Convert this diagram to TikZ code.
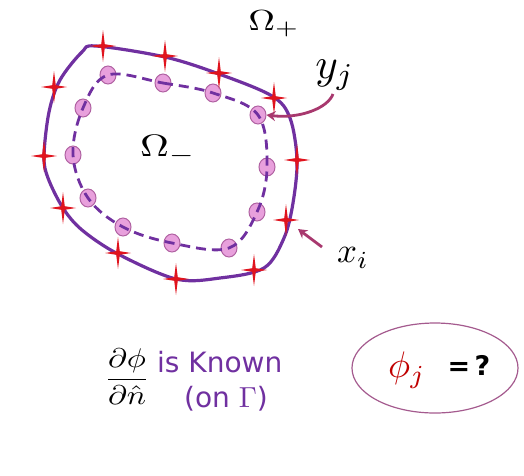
\documentclass[tikz,border=0pt]{standalone}
\usepackage{fontspec}
\setsansfont{DejaVu Sans}
\usetikzlibrary{arrows.meta,shapes.geometric}
\definecolor{bpurple}{HTML}{7030A0}
\definecolor{starred}{HTML}{E0141E}
\definecolor{dotfill}{HTML}{E8A0DC}
\definecolor{dotdraw}{HTML}{B062A2}
\definecolor{ptrcol}{HTML}{A8386E}
\definecolor{ellcol}{HTML}{A45A8E}
\definecolor{phired}{HTML}{C00000}
\tikzset{
  star4/.pic={\fill[starred] (0,-16) -- (1.8,-1.8) -- (13,0) -- (1.8,1.8) -- (0,16) -- (-1.8,1.8) -- (-13,0) -- (-1.8,-1.8) -- cycle;},
  dotnode/.style={ellipse,draw=dotdraw,fill=dotfill,line width=1pt,minimum width=16pt,minimum height=18pt,inner sep=0pt},
  ptr/.style={draw=ptrcol,line width=2.8pt,-{Stealth[length=9pt,width=10pt]}},
  mathlbl/.style={inner sep=0pt,font=\normalsize},
  sanslabel/.style={font=\sffamily\fontsize{28}{32}\selectfont,text=bpurple,inner sep=0pt}
}
\begin{document}
\begin{tikzpicture}[x=1pt,y=-1pt]
\useasboundingbox (0,0) rectangle (524,475);
% outer boundary
\draw[bpurple,line width=3.2pt,line join=round] plot[smooth cycle,tension=0.55] coordinates {
 (96,46) (165,57) (219,74) (272,96) (290,118) (297,160) (293,203) (284,238) (264,268) (220,278) (176,279) (118,254) (82,230) (63,208) (48,178) (44,156) (49,112) (60,80) (82,52)};
% inner dots
\foreach \n/\p in {1/{(108,75)},2/{(163,83)},3/{(213,93)},4/{(258,115)},5/{(267,167)},6/{(257,212)},7/{(229,248)},8/{(172,243)},9/{(123,227)},10/{(88,198)},11/{(73,155)},12/{(83,108)}}
  \node[dotnode] (d\n) at \p {};
% dashed inner curve
\draw[bpurple,line width=2.8pt,dash pattern=on 10pt off 6pt] plot[smooth cycle,tension=0.6] coordinates {
 (108,75) (163,83) (213,93) (258,115) (267,167) (257,212) (229,248) (172,243) (123,227) (88,198) (73,155) (83,108)};
% stars on boundary
\foreach \p in {(103,46),(165,56),(219,73),(274,98),(297,160),(286,220),(254,270),(176,279),(118,253),(63,208),(44,156),(54,87)}
  \pic at \p {star4};
% labels
\node[mathlbl] (omp) at (274,24) {\scalebox{3.7}[2.9]{$\Omega_{+}$}};
\node[mathlbl] (omm) at (168,150) {\scalebox{4.0}[3.1]{$\Omega_{-}$}};
\node[mathlbl] (yj) at (335,75) {\scalebox{4.3}{$y_j$}};
\node[mathlbl] (xi) at (353,258) {\scalebox{3.5}{$x_i$}};
\coordinate (yjtail) at (333,94);
\coordinate (xitail) at (322,247);
\draw[ptr] (yjtail) .. controls (328,108) and (300,119) .. (d4.east);
\draw[ptr] (xitail) -- (298,229);
% bottom texts
\node[mathlbl] (frac) at (127,377) {\scalebox{3.2}[2.7]{$\displaystyle\frac{\partial\phi}{\partial\hat{n}}$}};
\node[sanslabel,anchor=west] (known) at (157,362) {is Known};
\node[sanslabel] (ongamma) at (226,399) {(on {\normalsize\scalebox{2.9}{$\Gamma$}})};
\node[ellipse,draw=ellcol,line width=1.2pt,minimum width=166pt,minimum height=90pt,inner sep=0pt] (ell) at (435,368) {};
\node[mathlbl,text=phired] (phij) at (407,370) {\scalebox{3.7}{$\phi_j$}};
\node[font=\sffamily\bfseries\fontsize{27}{32}\selectfont,inner sep=0pt] (eq) at (469,365) {=\,?};
\end{tikzpicture}
\end{document}
